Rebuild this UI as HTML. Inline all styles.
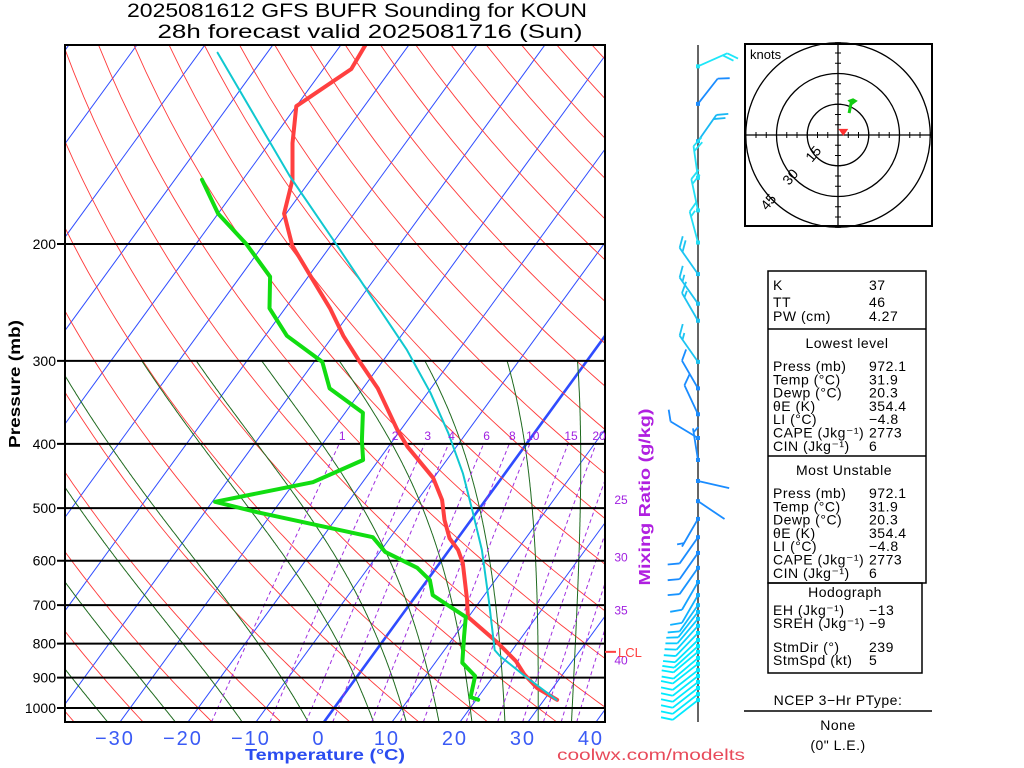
<!DOCTYPE html>
<html>
<head>
<meta charset="utf-8">
<style>
html,body{margin:0;padding:0;background:#fff;}
svg{display:block;}
text{font-family:"Liberation Sans",sans-serif;}
</style>
</head>
<body>
<svg id="chart" width="1024" height="768" viewBox="0 0 1024 768" xmlns="http://www.w3.org/2000/svg">
  <rect x="0" y="0" width="1024" height="768" fill="#fff"/>
  <defs><clipPath id="plotclip"><rect x="65" y="45" width="540" height="677"/></clipPath></defs>
  <text x="357" y="17" font-size="19" text-anchor="middle" textLength="460" lengthAdjust="spacingAndGlyphs">2025081612 GFS BUFR Sounding for KOUN</text>
  <text x="370" y="38" font-size="19" text-anchor="middle" textLength="425" lengthAdjust="spacingAndGlyphs">28h forecast valid 2025081716 (Sun)</text>
  <g id="grid" clip-path="url(#plotclip)"></g>
  <g id="plines"></g>
  <g id="series" clip-path="url(#plotclip)"></g>
  <rect x="65" y="45" width="540" height="677" fill="none" stroke="#000" stroke-width="2"/>
  <g id="labels"></g>
  <text transform="translate(20,384) rotate(-90)" font-size="16" font-weight="bold" text-anchor="middle" textLength="128" lengthAdjust="spacingAndGlyphs">Pressure (mb)</text>
  <text x="325" y="760" font-size="16" font-weight="bold" fill="#2a4cf0" text-anchor="middle" textLength="160" lengthAdjust="spacingAndGlyphs">Temperature (°C)</text>
  <text transform="translate(650,497) rotate(-90)" font-size="16" font-weight="bold" fill="#b020e0" text-anchor="middle" textLength="177" lengthAdjust="spacingAndGlyphs">Mixing Ratio (g/kg)</text>
  <text x="651" y="760" font-size="16" fill="#e84a5a" text-anchor="middle" textLength="188" lengthAdjust="spacingAndGlyphs">coolwx.com/modelts</text>
  <g id="lcl"></g>
  <g id="barbs"></g>
  <g id="hodo"></g>
  <g id="tables" font-size="14" letter-spacing="0.5"></g>
</svg>
<script>
// ---------- data ----------
const tempP = [972,933,889,850,798,729,688,605,578,555,521,486,450,404,381,330,302,275,250,224,201,180,160,141,124,109,100];
const tempT = [31.9,27.7,24.3,21.7,17.1,9.9,8.0,3.4,1.3,-1.2,-3.9,-6.4,-10.1,-17.2,-20.5,-27.8,-33.1,-38.5,-43.4,-49.6,-55.7,-60.3,-62.7,-66.6,-70.0,-65.9,-66.4];
const dewP = [972,963,895,855,779,729,700,676,642,615,582,553,507,489,457,423,395,359,330,301,275,250,224,200,180,160];
const dewT = [20.3,18.9,17.3,14.0,11.4,9.6,5.7,2.4,0.4,-2.8,-9.2,-12.6,-32.3,-39.6,-27.3,-22.3,-24.6,-27.4,-34.9,-38.8,-46.8,-52.3,-55.6,-62.6,-70.0,-76.0];
const parcelP = [972,895,835,818,688,578,508,443,385,335,289,200,158,103];
const parcelT = [31.8,24.6,18.8,17.4,11.2,4.8,-0.5,-6.2,-12.7,-19.6,-27.6,-49.4,-63.5,-87.3];
const windP = [108,123,140,159,178,199,222,246,261,301,330,361,392,423,455,488,519,553,584,615,646,676,700,717,734,752,771,790,807,823,841,858,877,895,914,933,953,973];
const windDir = [66,38,35,352,348,345,325,325,330,325,330,335,301,351,103,124,210,215,215,215,210,210,215,218,220,222,224,226,228,230,230,232,232,232,232,232,232,232];
const windSpd = [20,10,20,20,20,15,20,15,15,15,10,10,10,5,2,2,5,10,10,10,10,10,10,10,10,10,10,10,10,10,10,10,10,10,10,10,10,10];
const hodoU = [5.4,6.3,8.3,7.3,5.9,7.3];
const hodoV = [10.7,15.1,16.6,17.1,16.6,15.1];
const stormDir = 239, stormSpd = 5;
const pressureTicks = [200,300,400,500,600,700,800,900,1000];
const tempTicks = [-30,-20,-10,0,10,20,30,40];
const mixRatios = [1,2,3,4,6,8,10,15,20,25,30,35,40];
const moistStarts = [-35,-25,-15,-5,5,10,15,20,25,30,35];
const LCL_P = 823;

// ---------- axes ----------
const NS = "http://www.w3.org/2000/svg";
function Y(p){ return 708 + 288.3*Math.log(p/1000); }
function X(T,p){ return 324 + 6.8*T + (722 - Y(p))*0.728; }
function mk(tag, attrs, parent){ const e=document.createElementNS(NS,tag); for(const k in attrs) e.setAttribute(k,attrs[k]); parent.appendChild(e); return e; }
function pathFrom(pts){ return pts.map((q,i)=>(i?'L':'M')+q[0].toFixed(1)+' '+q[1].toFixed(1)).join(''); }

const grid=document.getElementById('grid');
for(let T=-140;T<=50;T+=10){
  const l=mk('line',{x1:X(T,1050),y1:Y(1050),x2:X(T,100),y2:Y(100),stroke:'#2f4cff','stroke-width':T===0?2.6:1},grid);
  
  
}
for(let th=-80;th<=200;th+=10){
  const pts=[]; for(let p=1050;p>=100;p-=10){ const T=(th+273.15)*Math.pow(p/1000,0.2857)-273.15; pts.push([X(T,p),Y(p)]); }
  const e=mk('path',{d:pathFrom(pts),fill:'none',stroke:'#ff3a3a','stroke-width':0.9},grid);
  
  
}
function rs(Tc,p){ const es=6.112*Math.exp(17.67*Tc/(Tc+243.5)); return 0.622*es/(p-es); }
function dTdp(Tk,p){ const r=rs(Tk-273.15,p); return (287*Tk+2.5e6*r)/(p*(1005+2.5e6*2.5e6*r*0.622/(287*Tk*Tk))); }
moistStarts.forEach(T0=>{
  let Tk=T0+273.15; const up=[];
  for(let p=1000;p>=300;p-=2){ up.push([X(Tk-273.15,p),Y(p)]); Tk-=dTdp(Tk,p)*2; }
  Tk=T0+273.15; const down=[];
  for(let p=1000;p<=1050;p+=2){ down.push([X(Tk-273.15,p),Y(p)]); Tk+=dTdp(Tk,p)*2; }
  const pts=down.reverse().concat(up);
  const e=mk('path',{d:pathFrom(pts),fill:'none',stroke:'#1f6a1f','stroke-width':1},grid);
  
  
});
function tdFromW(w,p){ const e=w*p/(622+w); const a=Math.log(e/6.112); return 243.5*a/(17.67-a); }
const labG=document.getElementById('labels');
mixRatios.forEach(w=>{
  const pts=[]; for(let p=1050;p>=400;p-=10) pts.push([X(tdFromW(w,p),p),Y(p)]);
  const e=mk('path',{d:pathFrom(pts),fill:'none',stroke:'#a030e0','stroke-width':1,'stroke-dasharray':'4,3'},grid);
  
  
  let lx, ly;
  const x400=X(tdFromW(w,400),400);
  if(x400<=605){ lx=x400+3; ly=440; }
  else { let lo=400,hi=1050; for(let i=0;i<40;i++){ const m=(lo+hi)/2; if(X(tdFromW(w,m),m)>598) lo=m; else hi=m; } lx=621; ly=Y(lo)+4+(w-25)*0.6; }
  const t=mk('text',{x:lx,y:ly,'font-size':12,fill:'#a020e0','text-anchor':'middle'},labG);
  t.textContent=w;
  
  
});
const pl=document.getElementById('plines');
pressureTicks.forEach(p=>{
  const l=mk('line',{x1:57,x2:605,y1:Y(p),y2:Y(p),stroke:'#000','stroke-width':2},pl);
  
  
  const t=mk('text',{x:56,y:Y(p)+5,'font-size':14,'text-anchor':'end'},labG);
  t.textContent=p;
  
  
});
tempTicks.forEach(T=>{
  const t=mk('text',{x:X(T,1050)-5,y:745,'font-size':20,fill:'#3a5af5','text-anchor':'middle','letter-spacing':2},labG);
  t.textContent=(T<0?'\u2212':'')+Math.abs(T);
  
  
});
const ser=document.getElementById('series');
function drawSeries(P,T,color,w,name){
  const e=mk('path',{d:pathFrom(P.map((p,i)=>[X(T[i],p),Y(p)])),fill:'none',stroke:color,'stroke-width':w,'stroke-linejoin':'round','stroke-linecap':'round'},ser);
  
  
}
drawSeries(tempP,tempT,'#ff4040',4,'temperature-line');
drawSeries(dewP,dewT,'#11dd11',4,'dewpoint-line');
drawSeries(parcelP,parcelT,'#10c8d0',2,'parcel-line');
const lclG=document.getElementById('lcl');
const lcll=mk('line',{x1:605,x2:616,y1:Y(LCL_P),y2:Y(LCL_P),stroke:'#ff4040','stroke-width':2},lclG);


const lclt=mk('text',{x:618,y:Y(LCL_P)+5,'font-size':13,fill:'#ff4040'},lclG);
lclt.textContent='LCL';



// wind barbs
const bg=document.getElementById('barbs');
const staff=mk('line',{x1:698,x2:698,y1:45,y2:722,stroke:'#666','stroke-width':2},bg);


function hex(c){return [parseInt(c.substr(1,2),16),parseInt(c.substr(3,2),16),parseInt(c.substr(5,2),16)];}
function barbColor(p){
  if(p<115) return '#1ee6f8'; if(p<130) return '#1a8cff'; if(p<150) return '#18b8f4';
  if(p<210) return '#22e0f6'; if(p<320) return '#1cc4f2'; if(p<600) return '#1a8cff';
  const t=Math.min(1,(p-600)/200); const a=hex('#1a8cff'), b=hex('#00eaff');
  return 'rgb('+a.map((v,i)=>Math.round(v+(b[i]-v)*t)).join(',')+')';
}
windP.forEach((p,i)=>{
  const g=mk('g',{},bg);
  
  
  const col=barbColor(p);
  const bx=698, by=Y(p), a=windDir[i]*Math.PI/180, L=32;
  const dx=Math.sin(a), dy=-Math.cos(a);
  const tx=bx+L*dx, ty=by+L*dy;
  mk('line',{x1:bx,y1:by,x2:tx,y2:ty,stroke:col,'stroke-width':1.8},g);
  mk('rect',{x:bx-2,y:by-2,width:4,height:4,fill:col},g);
  const fa=a+50*Math.PI/180, fx=Math.sin(fa), fy=-Math.cos(fa);
  let s=windSpd[i], pos=0;
  while(s>=10){ const sx=tx-pos*dx, sy=ty-pos*dy; mk('line',{x1:sx,y1:sy,x2:sx+12*fx,y2:sy+12*fy,stroke:col,'stroke-width':1.8},g); s-=10; pos+=5; }
  if(s>=5){ if(pos===0) pos=4; const sx=tx-pos*dx, sy=ty-pos*dy; mk('line',{x1:sx,y1:sy,x2:sx+7*fx,y2:sy+7*fy,stroke:col,'stroke-width':1.8},g); }
});

// hodograph
const hg=document.getElementById('hodo');
const HX=838, HY=135, K=2.05;
mk('rect',{x:745,y:44,width:187,height:182,fill:'#fff',stroke:'#000','stroke-width':2},hg);
[15,30,45].forEach(r=>{
  const c=mk('circle',{cx:HX,cy:HY,r:r*K,fill:'none',stroke:'#000','stroke-width':1.3},hg);
  
  
});
mk('line',{x1:745,x2:932,y1:HY,y2:HY,stroke:'#000','stroke-width':1.3},hg);
mk('line',{x1:HX,x2:HX,y1:44,y2:226,stroke:'#000','stroke-width':1.3},hg);
for(let k=-45;k<=45;k+=5){ if(k===0) continue;
  mk('line',{x1:HX+k*K,x2:HX+k*K,y1:HY-3,y2:HY+3,stroke:'#000','stroke-width':1},hg);
  mk('line',{x1:HX-3,x2:HX+3,y1:HY+k*K,y2:HY+k*K,stroke:'#000','stroke-width':1},hg);
}
[[15,817,157],[30,794,180],[45,772,205]].forEach(r=>{
  const t=mk('text',{x:r[1],y:r[2],'font-size':14,'text-anchor':'middle',transform:'rotate(-50 '+r[1]+' '+r[2]+')'},hg);
  t.textContent=r[0];
  
  
});
const kn=mk('text',{x:750,y:59,'font-size':13},hg); kn.textContent='knots';


const hp=mk('path',{d:pathFrom(hodoU.map((u,i)=>[HX+u*K,HY-hodoV[i]*K])),fill:'none',stroke:'#11cc11','stroke-width':3},hg);


{
  const ma=(stormDir+180)*Math.PI/180;
  const sx=HX+stormSpd*Math.sin(ma)*K*0.6, sy=HY-stormSpd*Math.cos(ma)*K*0.6;
  const tri=mk('path',{d:'M'+(sx-5)+' '+(sy-3)+'L'+(sx+5)+' '+(sy-3)+'L'+sx+' '+(sy+4)+'Z',fill:'#ff3030'},hg);
  
  
}

// tables
const tg=document.getElementById('tables');
mk('rect',{x:768,y:271,width:158,height:312,fill:'none',stroke:'#000','stroke-width':1.5},tg);
mk('line',{x1:768,x2:926,y1:329,y2:329,stroke:'#000','stroke-width':1.5},tg);
mk('line',{x1:768,x2:926,y1:456,y2:456,stroke:'#000','stroke-width':1.5},tg);
mk('rect',{x:768,y:583,width:154,height:90,fill:'none',stroke:'#000','stroke-width':1.5},tg);
function txt(x,y,s,anchor,name){ const t=mk('text',{x:x,y:y,'text-anchor':anchor||'start'},tg); t.textContent=s;   return t; }
function row(y,l,v){ txt(773,y,l,'start','table-label'); txt(869,y,v,'start','table-value'); }
row(290,'K','37'); row(307,'TT','46'); row(321,'PW (cm)','4.27');
txt(847,348,'Lowest level','middle','section-title');
const rowsL=[['Press (mb)','972.1'],['Temp (°C)','31.9'],['Dewp (°C)','20.3'],['θE (K)','354.4'],['LI (°C)','\u22124.8'],['CAPE (Jkg\u207B\u00B9)','2773'],['CIN (Jkg\u207B\u00B9)','6']];
rowsL.forEach((r,i)=>row(371+i*13.3,r[0],r[1]));
txt(844,475,'Most Unstable','middle','section-title');
rowsL.forEach((r,i)=>row(498+i*13.3,r[0],r[1]));
txt(845,597,'Hodograph','middle','section-title');
row(615,'EH (Jkg\u207B\u00B9)','\u221213'); row(628,'SREH (Jkg\u207B\u00B9)','\u22129');
row(652,'StmDir (°)','239'); row(665,'StmSpd (kt)','5');
txt(838,705,'NCEP 3\u2212Hr PType:','middle','ptype-title');
mk('line',{x1:744,x2:932,y1:711,y2:711,stroke:'#000','stroke-width':1.5},tg);
txt(838,730,'None','middle','ptype-value');
txt(838,750,'(0" L.E.)','middle','ptype-amount');
</script>
</body>
</html>
